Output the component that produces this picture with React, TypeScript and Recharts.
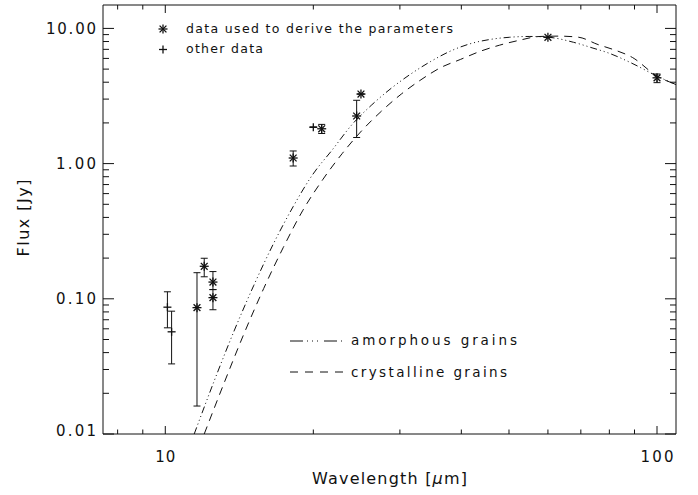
import React from 'react';
import { ComposedChart, Line, Scatter, XAxis, YAxis, ErrorBar } from 'recharts';

// ---- model curves (wavelength in micron, flux in Jy) ----
const amorphousX = [11.45, 12.59, 13.8, 15.14, 16.6, 18.2, 19.95, 21.88, 23.99, 26.3, 28.84, 31.62, 34.67, 38.02, 41.69, 45.71, 50.12, 54.95, 60.26, 67.6, 74.1, 79.4, 88.5, 100, 109.3];
const amorphousY = [0.01, 0.025, 0.0578, 0.126, 0.256, 0.481, 0.832, 1.27, 1.95, 2.72, 3.62, 4.62, 5.7, 6.8, 7.7, 8.28, 8.6, 8.72, 8.6, 7.9, 7.15, 6.61, 5.57, 4.44, 3.84];

const crystallineX = [12.0, 13.18, 14.45, 15.85, 17.38, 19.05, 20.89, 22.91, 25.12, 27.54, 30.2, 33.11, 36.31, 39.81, 43.65, 47.86, 52.48, 57.54, 63.1, 69.2, 75.9, 81.3, 89.1, 100, 109.3];
const crystallineY = [0.01, 0.024, 0.055, 0.119, 0.24, 0.452, 0.759, 1.19, 1.76, 2.45, 3.27, 4.17, 5.13, 5.89, 6.76, 7.52, 8.17, 8.71, 8.77, 8.61, 7.59, 7.0, 6.1, 4.44, 3.85];

// ---- photometry: data used to derive the parameters ----
const usedX = [11.6, 12.0, 12.5, 12.5, 18.2, 20.8, 24.5, 25.0, 60, 100];
const usedY = [0.086, 0.174, 0.133, 0.102, 1.10, 1.81, 2.25, 3.27, 8.6, 4.31];
const usedLow = [0.0161, 0.1455, 0.117, 0.083, 0.96, 1.67, 1.56, 3.27, 8.6, 3.97];
const usedHigh = [0.156, 0.1995, 0.159, 0.117, 1.24, 1.95, 2.94, 3.27, 8.6, 4.6];

// ---- photometry: other data ----
const otherX = [10.1, 10.3, 20.0];
const otherY = [0.0867, 0.057, 1.86];
const otherLow = [0.061, 0.033, 1.86];
const otherHigh = [0.1127, 0.081, 1.86];

// ---- axes ----
const xDomain = [7.47, 109.3];
const yDomain = [0.01, 14.9];
const xTicks = [8, 9, 10, 20, 30, 40, 50, 60, 70, 80, 90, 100];
const xMajor = [10, 100];
const xLabels = ['10', '100'];
const yTicks = [0.01, 0.02, 0.03, 0.04, 0.05, 0.06, 0.07, 0.08, 0.09, 0.1, 0.2, 0.3, 0.4, 0.5, 0.6, 0.7, 0.8, 0.9, 1, 2, 3, 4, 5, 6, 7, 8, 9, 10];
const yMajor = [0.01, 0.1, 1, 10];
const yLabels = ['0.01', '0.10', '1.00', '10.00'];

const legendUsed = 'data used to derive the parameters';
const legendOther = 'other data';
const legendAmorphous = 'amorphous grains';
const legendCrystalline = 'crystalline grains';
const xTitle = 'Wavelength [';
const xTitleMu = 'μ';
const xTitleEnd = 'm]';
const yTitle = 'Flux [Jy]';

const curve = (xs: number[], ys: number[]) => xs.map((x, i) => ({ x, y: ys[i] }));
const points = (xs: number[], ys: number[], lo: number[], hi: number[]) =>
  xs.map((x, i) => ({ x, y: ys[i], err: [ys[i] - lo[i], hi[i] - ys[i]] }));

const amorphousData = curve(amorphousX, amorphousY);
const crystallineData = curve(crystallineX, crystallineY);
const usedData = points(usedX, usedY, usedLow, usedHigh);
const otherData = points(otherX, otherY, otherLow, otherHigh);

const FONT = '"DejaVu Sans", sans-serif';
const INK = '#111';
const AMORPH_DASH = '7 3 1 3 1 3 1 3';
const CRYST_DASH = '8 6';

const tickWidths: Record<string, number> = { '0.01': 40, '0.10': 40, '1.00': 40, '10.00': 50, '10': 20, '100': 33 };

const findMajor = (arr: number[], v: number) => arr.findIndex((m) => Math.abs(m - v) / m < 1e-6);

const Asterisk = ({ cx, cy }: any) => {
  if (cx == null || cy == null) return null;
  const r = 4.5;
  const d = 3.4;
  return (
    <g stroke={INK} strokeWidth={1.3}>
      <line x1={cx - r} y1={cy} x2={cx + r} y2={cy} />
      <line x1={cx} y1={cy - r} x2={cx} y2={cy + r} />
      <line x1={cx - d} y1={cy - d} x2={cx + d} y2={cy + d} />
      <line x1={cx - d} y1={cy + d} x2={cx + d} y2={cy - d} />
    </g>
  );
};

const Plus = ({ cx, cy }: any) => {
  if (cx == null || cy == null) return null;
  const r = 4;
  return (
    <g stroke={INK} strokeWidth={1.3}>
      <line x1={cx - r} y1={cy} x2={cx + r} y2={cy} />
      <line x1={cx} y1={cy - r} x2={cx} y2={cy + r} />
    </g>
  );
};

const BottomTick = ({ x, y, payload }: any) => {
  const i = findMajor(xMajor, payload.value);
  const len = i >= 0 ? 8 : 4.5;
  return (
    <g>
      <line x1={x} y1={y} x2={x} y2={y - len} stroke={INK} />
      {i >= 0 && (
        <text x={x} y={y + 28} textAnchor="middle" fontSize={15} fontFamily={FONT} fill={INK}
          textLength={tickWidths[xLabels[i]]} lengthAdjust="spacing">
          {xLabels[i]}
        </text>
      )}
    </g>
  );
};

const TopTick = ({ x, y, payload }: any) => {
  const i = findMajor(xMajor, payload.value);
  const len = i >= 0 ? 8 : 4.5;
  return <line x1={x} y1={y} x2={x} y2={y + len} stroke={INK} />;
};

const LeftTick = ({ x, y, payload }: any) => {
  const i = findMajor(yMajor, payload.value);
  const len = i >= 0 ? 11 : 6;
  const dy = i === 0 ? 2 : 5.5;
  return (
    <g>
      <line x1={x} y1={y} x2={x + len} y2={y} stroke={INK} />
      {i >= 0 && (
        <text x={x - 7} y={y + dy} textAnchor="end" fontSize={15} fontFamily={FONT} fill={INK}
          textLength={tickWidths[yLabels[i]]} lengthAdjust="spacing">
          {yLabels[i]}
        </text>
      )}
    </g>
  );
};

const RightTick = ({ x, y, payload }: any) => {
  const i = findMajor(yMajor, payload.value);
  const len = i >= 0 ? 11 : 6;
  return <line x1={x} y1={y} x2={x - len} y2={y} stroke={INK} />;
};

export default function App() {
  return (
    <div style={{ position: 'absolute', left: 0, top: 0, width: 698, height: 495, background: '#fff' }}>
      <ComposedChart width={698} height={495} margin={{ top: 0, right: 0, bottom: 0, left: 0 }}>
        <XAxis dataKey="x" type="number" scale="log" domain={xDomain} allowDataOverflow ticks={xTicks} interval={0}
          orientation="bottom" height={61} tickSize={0} tickMargin={0} tickLine={false}
          axisLine={{ stroke: INK }} tick={<BottomTick />} />
        <XAxis xAxisId="top" dataKey="x" type="number" scale="log" domain={xDomain} allowDataOverflow ticks={xTicks} interval={0}
          orientation="top" height={5} tickSize={0} tickMargin={0} tickLine={false}
          axisLine={{ stroke: INK }} tick={<TopTick />} />
        <YAxis type="number" scale="log" domain={yDomain} allowDataOverflow ticks={yTicks} interval={0}
          orientation="left" width={103} tickSize={0} tickMargin={0} tickLine={false}
          axisLine={{ stroke: INK }} tick={<LeftTick />} />
        <YAxis yAxisId="right" type="number" scale="log" domain={yDomain} allowDataOverflow ticks={yTicks} interval={0}
          orientation="right" width={22} tickSize={0} tickMargin={0} tickLine={false}
          axisLine={{ stroke: INK }} tick={<RightTick />} />
        <Line data={amorphousData} dataKey="y" type="monotone" stroke={INK} strokeWidth={1}
          strokeDasharray={AMORPH_DASH} dot={false} activeDot={false} isAnimationActive={false} />
        <Line data={crystallineData} dataKey="y" type="monotone" stroke={INK} strokeWidth={1}
          strokeDasharray={CRYST_DASH} dot={false} activeDot={false} isAnimationActive={false} />
        <Scatter data={usedData} dataKey="y" shape={<Asterisk />} isAnimationActive={false}>
          <ErrorBar dataKey="err" direction="y" width={3.5} stroke={INK} strokeWidth={1} />
        </Scatter>
        <Scatter data={otherData} dataKey="y" shape={<Plus />} isAnimationActive={false}>
          <ErrorBar dataKey="err" direction="y" width={3.5} stroke={INK} strokeWidth={1} />
        </Scatter>
      </ComposedChart>
      <svg width={698} height={495} style={{ position: 'absolute', left: 0, top: 0, pointerEvents: 'none' }}>
        <g fontFamily={FONT} fill={INK}>
          <Asterisk cx={163} cy={29} />
          <text x={186} y={33} fontSize={12.5} textLength={267} lengthAdjust="spacing">{legendUsed}</text>
          <Plus cx={163} cy={49.5} />
          <text x={186} y={53} fontSize={12.5} textLength={77} lengthAdjust="spacing">{legendOther}</text>

          <line x1={290} y1={341} x2={345} y2={341} stroke={INK} strokeDasharray="13 4 1 4 1 4 1 6" />
          <text x={351} y={344.5} fontSize={13.5} textLength={166} lengthAdjust="spacing">{legendAmorphous}</text>
          <line x1={290} y1={372} x2={345} y2={372} stroke={INK} strokeDasharray="8 7" />
          <text x={351} y={376.5} fontSize={13.5} textLength={156} lengthAdjust="spacing">{legendCrystalline}</text>

          <text x={312} y={484} fontSize={16} textLength={155} lengthAdjust="spacing">
            {xTitle}
            <tspan fontStyle="italic">{xTitleMu}</tspan>
            {xTitleEnd}
          </text>
          <text x={29} y={218} fontSize={16} textAnchor="middle" transform="rotate(-90 29 218)"
            textLength={77} lengthAdjust="spacing">{yTitle}</text>
        </g>
      </svg>
    </div>
  );
}
